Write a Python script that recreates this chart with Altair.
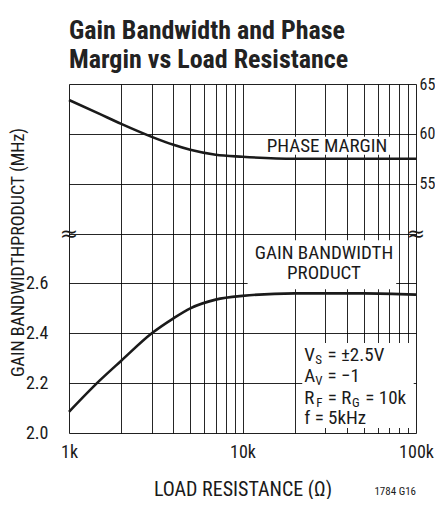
import altair as alt
import pandas as pd

# ---------------- data ----------------
load_ohm = [1000, 1500, 2000, 3000, 4000, 5000, 7000, 10000, 20000, 50000, 100000]
gbw_mhz = [2.085, 2.21, 2.29, 2.40, 2.46, 2.50, 2.535, 2.55, 2.56, 2.56, 2.555]
pm_deg = [63.4, 62.0, 61.0, 59.7, 58.9, 58.4, 57.9, 57.7, 57.5, 57.5, 57.5]

x_grid = [1000, 2000, 3000, 4000, 5000, 6000, 7000, 8000, 9000,
          10000, 20000, 30000, 40000, 50000, 60000, 70000, 80000, 90000, 100000]
x_labels = {1000: "1k", 10000: "10k", 100000: "100k"}
gbw_grid = [2.0, 2.2, 2.4, 2.6, 2.8, 3.0, 3.2, 3.4]
pm_ticks = [55, 60, 65]
break_gbw = 2.8

# annotation boxes (white backgrounds), in data units
gbw_box_r = [10700, 76900]
gbw_box_g = [2.577, 2.773]
spec_box_r = [22100, 97000]
spec_box_g = [2.02, 2.361]
pm_box_r = [13100, 72000]
pm_box_p = [57.9, 59.7]

gbw_label_lines = ["GAIN BANDWIDTH", "PRODUCT"]
gbw_label_r = 29500
gbw_label_g = [2.721, 2.641]
pm_label = "PHASE MARGIN"
pm_label_r = 30700
pm_label_p = 58.8

spec_lines = [
    [("V", False), ("S", True), (" = \u00b12.5V", False)],
    [("A", False), ("V", True), (" = \u22121", False)],
    [("R", False), ("F", True), (" = R", False), ("G", True), (" = 10k", False)],
    [("f = 5kHz", False)],
]
spec_r = 22700
spec_g = [2.313, 2.228, 2.140, 2.060]

# ---------------- styling ----------------
FONT = "Roboto Condensed, Liberation Sans Narrow, sans-serif"
INK = "#1a1a1a"
W = 347
H = 349
FS = 19
LFS = 18
SUB = 13

# approximate glyph widths (Arial metrics, scaled for the condensed face)
GW = {'V': 667, 'S': 667, 'A': 667, 'R': 722, 'F': 611, 'G': 778, ' ': 278, '=': 584,
      '\u00b1': 584, '2': 556, '.': 278, '5': 556, '1': 556, '0': 556, 'k': 500,
      '\u2212': 584, 'f': 278, 'H': 722, 'z': 500}


def text_w(s, size):
    return sum(GW.get(c, 556) for c in s) / 1000 * 0.76 * size


xscale = alt.Scale(type="log", domain=[1000, 100000], nice=False)
gscale = alt.Scale(domain=[2.0, 3.4], nice=False)
pscale = alt.Scale(domain=[30, 65], nice=False)

label_expr = " : ".join(f"datum.value == {k} ? '{v}'" for k, v in x_labels.items()) + " : ''"

x_axis = alt.Axis(values=x_grid, labelExpr=label_expr, grid=True, ticks=False, tickSize=0,
                  domain=False, labelFlush=False, labelOverlap=False, labelPadding=10,
                  labelFontSize=LFS, labelFont=FONT, labelColor=INK,
                  gridColor="#000", gridWidth=1, gridOpacity=0.85,
                  title="LOAD RESISTANCE (\u03a9)", titleFontSize=20, titleFont=FONT,
                  titleFontWeight="normal", titleColor=INK, titleY=56, titleBaseline="middle")

g_expr = "datum.value <= 2.61 ? format(datum.value, '.1f') : ''"
g_axis = alt.Axis(values=gbw_grid, labelExpr=g_expr, grid=True, ticks=False, tickSize=0,
                  domain=False, labelPadding=21, labelFontSize=LFS, labelFont=FONT,
                  labelColor=INK, labelOverlap=False, labelFlush=False,
                  gridColor="#000", gridWidth=1, gridOpacity=0.85,
                  title="GAIN BANDWIDTHPRODUCT (MHz)", titleFontSize=18, titleFont=FONT,
                  titleFontWeight="normal", titleColor=INK, titleX=-51, titleY=168,
                  titleBaseline="middle", titleAlign="center")

p_axis = alt.Axis(orient="right", values=pm_ticks, grid=False, ticks=False, tickSize=0,
                  domain=False, labelPadding=3, labelFontSize=16, labelFont=FONT,
                  labelColor=INK, labelOverlap=False, labelFlush=False, title=None)


def gx():
    return alt.X("r:Q", scale=xscale, axis=x_axis)


def gy():
    return alt.Y("g:Q", scale=gscale, axis=g_axis)


def py():
    return alt.Y("p:Q", scale=pscale, axis=p_axis)


# ---------------- GBW (left scale) layers ----------------
gdf = pd.DataFrame({"r": load_ohm, "g": gbw_mhz})
g_line = alt.Chart(gdf).mark_line(color=INK, strokeWidth=2.6, interpolate="monotone").encode(
    x=gx(), y=gy())

boxes = pd.DataFrame({
    "r": [gbw_box_r[0], spec_box_r[0]], "r2": [gbw_box_r[1], spec_box_r[1]],
    "g": [gbw_box_g[0], spec_box_g[0]], "g2": [gbw_box_g[1], spec_box_g[1]],
})
g_boxes = alt.Chart(boxes).mark_rect(color="white").encode(
    x=gx(), x2="r2:Q", y=gy(), y2="g2:Q")

g_lab = alt.Chart(pd.DataFrame({"r": [gbw_label_r] * 2, "g": gbw_label_g, "t": gbw_label_lines})).mark_text(
    font=FONT, fontSize=FS, color=INK, align="center", baseline="middle").encode(
    x=gx(), y=gy(), text="t:N")

brk = alt.Chart(pd.DataFrame({"r": [1000, 100000], "g": [break_gbw] * 2, "t": ["\u2248", "\u2248"]})).mark_text(
    font="DejaVu Sans", fontSize=22, color=INK, align="center", baseline="middle").encode(
    x=gx(), y=gy(), text="t:N")

spec_layers = []
for i, segs in enumerate(spec_lines):
    off = 0.0
    for s, sub in segs:
        size = SUB if sub else FS
        lead = len(s) - len(s.lstrip(" "))
        shown = s.lstrip(" ")
        start = off + text_w(" " * lead, size)
        spec_layers.append(
            alt.Chart(pd.DataFrame({"r": [spec_r], "g": [spec_g[i]], "t": [shown]})).mark_text(
                font=FONT, fontSize=size, color=INK, align="left", baseline="middle",
                dx=round(start, 1), dy=(5 if sub else 0)).encode(
                x=gx(), y=gy(), text="t:N")
        )
        off += text_w(s, size) + 1.5

foot = alt.Chart(pd.DataFrame({"t": ["1784 G16"]})).mark_text(
    font=FONT, fontSize=11, color=INK, align="right", baseline="middle").encode(
    x=alt.value(W), y=alt.value(H + 59), text="t:N")

gbw_layer = alt.layer(g_line, g_boxes, g_lab, brk, *spec_layers, foot)

# ---------------- Phase margin (right scale) layers ----------------
pdf = pd.DataFrame({"r": load_ohm, "p": pm_deg})
p_line = alt.Chart(pdf).mark_line(color=INK, strokeWidth=2.6, interpolate="monotone").encode(
    x=gx(), y=py())
p_box = alt.Chart(pd.DataFrame({"r": [pm_box_r[0]], "r2": [pm_box_r[1]],
                                "p": [pm_box_p[0]], "p2": [pm_box_p[1]]})).mark_rect(color="white").encode(
    x=gx(), x2="r2:Q", y=py(), y2="p2:Q")
p_lab = alt.Chart(pd.DataFrame({"r": [pm_label_r], "p": [pm_label_p], "t": [pm_label]})).mark_text(
    font=FONT, fontSize=FS, color=INK, align="center", baseline="middle").encode(
    x=gx(), y=py(), text="t:N")
pm_layer = alt.layer(p_line, p_box, p_lab)

chart = alt.layer(gbw_layer, pm_layer).resolve_scale(y="independent").properties(
    width=W, height=H,
    title=alt.TitleParams(
        text=["Gain Bandwidth and Phase", "Margin vs Load Resistance"],
        anchor="start", frame="group", font=FONT, fontSize=26, fontWeight="bold",
        color="#222", lineHeight=29, offset=2),
    autosize=alt.AutoSizeParams(type="none"),
    padding={"left": 61, "top": 76, "right": 19, "bottom": 66},
).configure_view(stroke=INK, strokeWidth=2).configure(background="white")

chart.save("out.html", embed_options={"renderer": "svg", "actions": False})
